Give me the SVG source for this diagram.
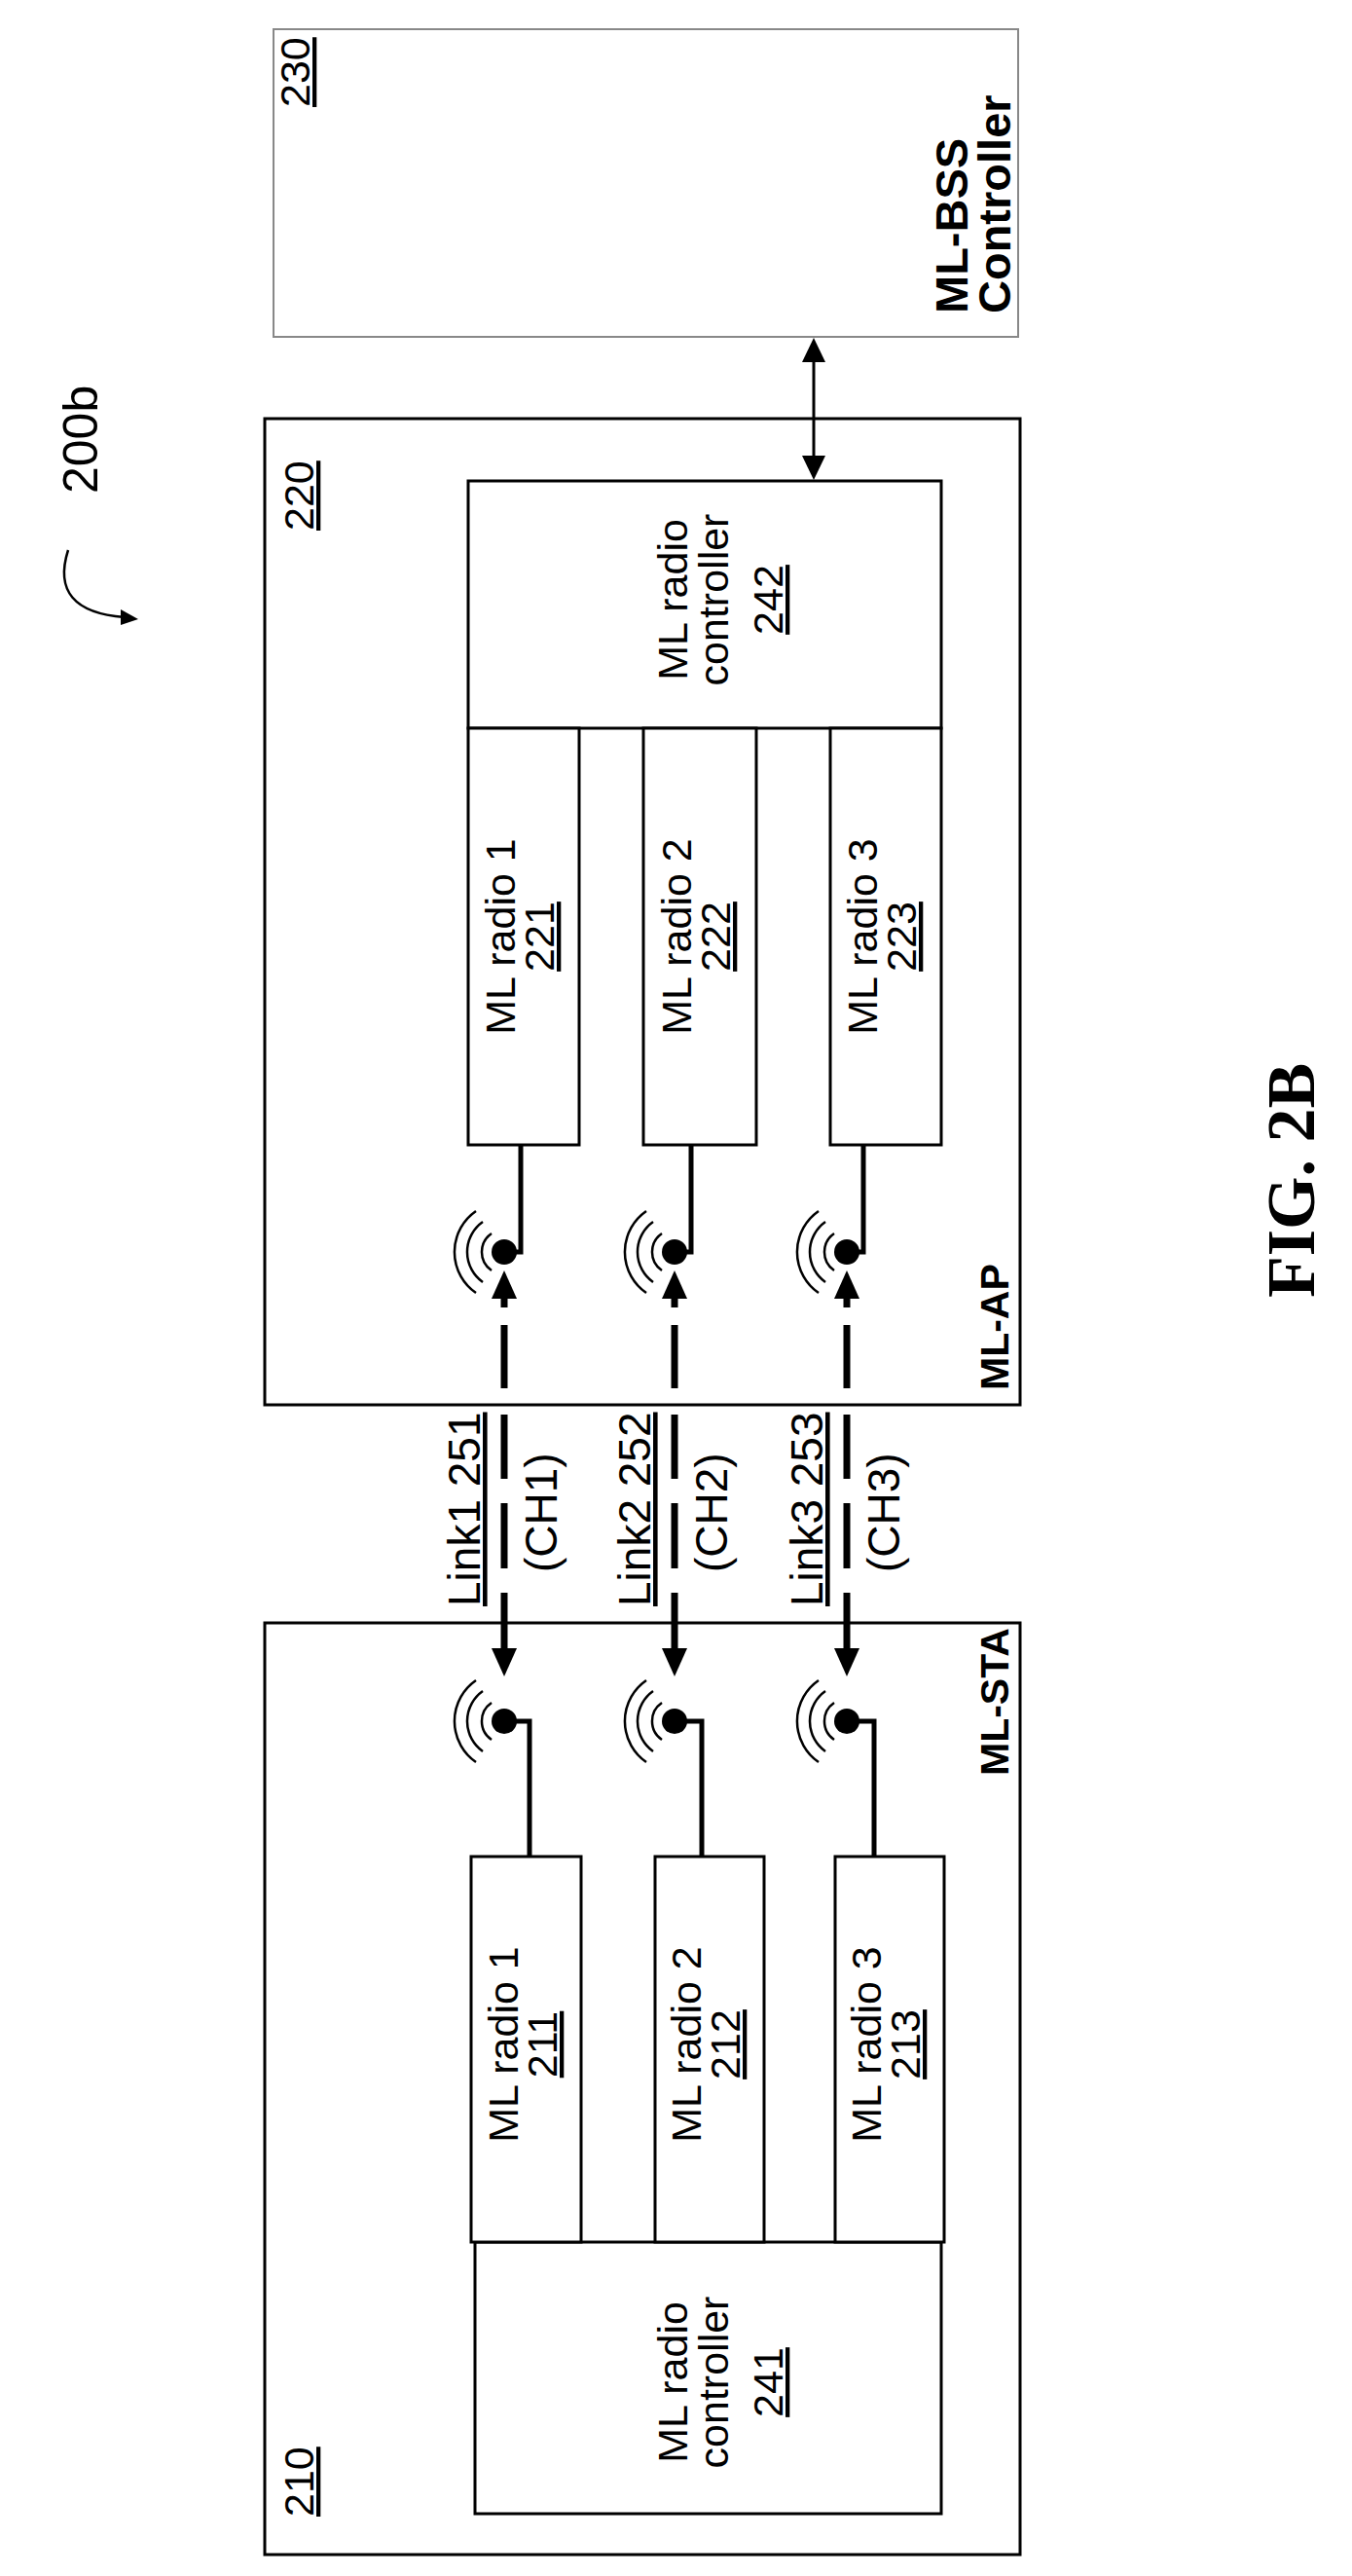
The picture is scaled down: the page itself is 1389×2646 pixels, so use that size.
<svg xmlns="http://www.w3.org/2000/svg" width="1389" height="2646" viewBox="0 0 1389 2646">
<style>
.b{fill:#fff;stroke:#000;stroke-width:3}
.t{font-family:"Liberation Sans",Arial,sans-serif;font-size:43px;fill:#000}
.lt{font-family:"Liberation Sans",Arial,sans-serif;font-size:46px;fill:#000}
.bd{font-family:"Liberation Sans",Arial,sans-serif;font-size:41px;font-weight:bold;fill:#000}
.bb{font-family:"Liberation Sans",Arial,sans-serif;font-size:47px;font-weight:bold;fill:#000}
.u{text-decoration:underline}
.w{fill:none;stroke:#000;stroke-width:5}
.arc{fill:none;stroke:#000;stroke-width:2.5}
.ln{stroke:#000;stroke-width:7}
</style>
<rect width="1389" height="2646" fill="#fff"/>
<g id="n230"><rect x="281" y="30" width="765" height="316" fill="#fff" stroke="#888" stroke-width="2"/>
<text class="t u" transform="translate(318,110) rotate(-90)" font-size="40">230</text>
<text class="bb" transform="translate(994,322) rotate(-90)">ML-BSS</text>
<text class="bb" transform="translate(1038,322) rotate(-90)">Controller</text></g>
<g id="n220"><rect class="b" x="272" y="430" width="776" height="1013"/>
<text class="t u" transform="translate(322,545) rotate(-90)" font-size="40">220</text>
<text class="bd" transform="translate(1036,1428) rotate(-90)">ML-AP</text></g>
<g id="n242"><rect class="b" x="481" y="494" width="486" height="254"/>
<g class="t" text-anchor="middle"><text transform="translate(706,616) rotate(-90)">ML radio</text>
<text transform="translate(748,616) rotate(-90)">controller</text>
<text class="u" transform="translate(804,616) rotate(-90)">242</text></g></g>
<g id="n221"><rect class="b" x="481" y="748" width="114" height="428"/>
<g class="t" text-anchor="middle"><text transform="translate(529,962) rotate(-90)">ML radio 1</text><text class="u" transform="translate(569,962) rotate(-90)">221</text></g></g>
<g id="n222"><rect class="b" x="661" y="748" width="116" height="428"/>
<g class="t" text-anchor="middle"><text transform="translate(710,962) rotate(-90)">ML radio 2</text><text class="u" transform="translate(750,962) rotate(-90)">222</text></g></g>
<g id="n223"><rect class="b" x="853" y="748" width="114" height="428"/>
<g class="t" text-anchor="middle"><text transform="translate(901,962) rotate(-90)">ML radio 3</text><text class="u" transform="translate(941,962) rotate(-90)">223</text></g></g>
<g id="n210"><rect class="b" x="272" y="1667" width="776" height="957"/>
<text class="t u" transform="translate(322,2585) rotate(-90)" font-size="40">210</text>
<text class="bd" transform="translate(1036,1824) rotate(-90)">ML-STA</text></g>
<g id="n241"><rect class="b" x="488" y="2303" width="479" height="279"/>
<g class="t" text-anchor="middle"><text transform="translate(706,2447) rotate(-90)">ML radio</text>
<text transform="translate(748,2447) rotate(-90)">controller</text>
<text class="u" transform="translate(804,2447) rotate(-90)">241</text></g></g>
<g id="n211"><rect class="b" x="484" y="1907" width="113" height="396"/>
<g class="t" text-anchor="middle"><text transform="translate(532,2100) rotate(-90)">ML radio 1</text><text class="u" transform="translate(572,2100) rotate(-90)">211</text></g></g>
<g id="n212"><rect class="b" x="673" y="1907" width="112" height="396"/>
<g class="t" text-anchor="middle"><text transform="translate(720,2100) rotate(-90)">ML radio 2</text><text class="u" transform="translate(760,2100) rotate(-90)">212</text></g></g>
<g id="n213"><rect class="b" x="858" y="1907" width="112" height="396"/>
<g class="t" text-anchor="middle"><text transform="translate(905,2100) rotate(-90)">ML radio 3</text><text class="u" transform="translate(945,2100) rotate(-90)">213</text></g></g>
<defs>
<g id="ant"><circle cx="0" cy="0" r="13" fill="#000"/>
<path class="arc" d="M -13 -19 A 23 23 0 0 0 -13 19"/>
<path class="arc" d="M -22 -31 A 38 38 0 0 0 -22 31"/>
<path class="arc" d="M -29 -42 A 51 51 0 0 0 -29 42"/></g>
<g id="lk"><polygon points="0,-210 -13,-181 13,-181"/><polygon points="0,207 -13,178 13,178"/>
<g class="ln"><line x1="0" y1="-183" x2="0" y2="-172"/><line x1="0" y1="-154" x2="0" y2="-89"/><line x1="0" y1="-62" x2="0" y2="4"/><line x1="0" y1="29" x2="0" y2="96"/><line x1="0" y1="121" x2="0" y2="180"/></g></g>
</defs>
<g id="antennas">
<use href="#ant" x="518" y="1286"/><path class="w" d="M518 1286 H535 V1176"/>
<use href="#ant" x="693" y="1286"/><path class="w" d="M693 1286 H710 V1176"/>
<use href="#ant" x="870" y="1286"/><path class="w" d="M870 1286 H887 V1176"/>
<use href="#ant" x="518" y="1768"/><path class="w" d="M518 1768 H544 V1907"/>
<use href="#ant" x="693" y="1768"/><path class="w" d="M693 1768 H721 V1907"/>
<use href="#ant" x="870" y="1768"/><path class="w" d="M870 1768 H898 V1907"/>
</g>
<g id="connectors">
<line x1="836" y1="370" x2="836" y2="470" stroke="#000" stroke-width="3"/>
<polygon points="836,347 824,372 848,372"/><polygon points="836,493 824,468 848,468"/>
<use href="#lk" x="518" y="1515"/><use href="#lk" x="693" y="1515"/><use href="#lk" x="870" y="1515"/>
</g>
<g id="labels" class="lt">
<text class="u" transform="translate(493,1650) rotate(-90)">Link1 251</text>
<text transform="translate(572,1615) rotate(-90)">(CH1)</text>
<text class="u" transform="translate(668,1650) rotate(-90)">Link2 252</text>
<text transform="translate(747,1615) rotate(-90)">(CH2)</text>
<text class="u" transform="translate(845,1650) rotate(-90)">Link3 253</text>
<text transform="translate(924,1615) rotate(-90)">(CH3)</text>
</g>
<g id="fig">
<text transform="translate(100,507) rotate(-90)" font-family="Liberation Sans,Arial,sans-serif" font-size="50">200b</text>
<path d="M70 565 Q50 628 128 634" fill="none" stroke="#000" stroke-width="2.5"/>
<polygon points="142,636 124,626 124,642"/>
<text transform="translate(1350,1333) rotate(-90)" font-family="Liberation Serif,Times New Roman,serif" font-size="70" font-weight="bold">FIG. 2B</text>
</g>
</svg>
